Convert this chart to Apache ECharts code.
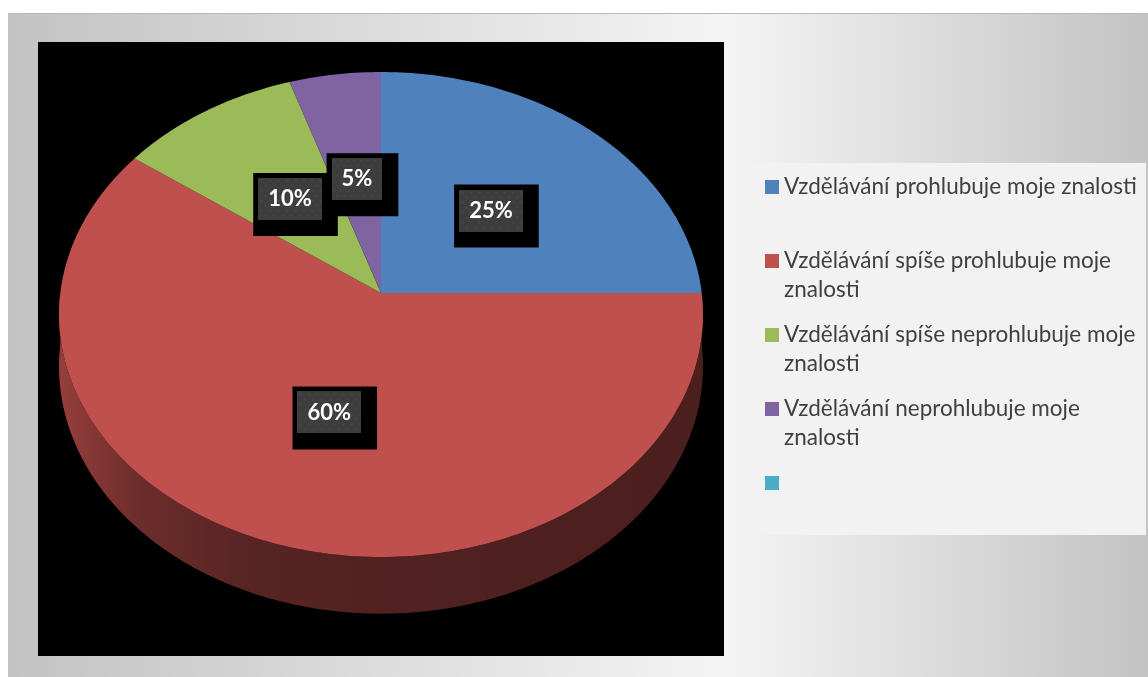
<!DOCTYPE html>
<html>
<head>
<meta charset="utf-8">
<title>Vzdělávání a znalosti</title>
<script src="https://cdn.jsdelivr.net/npm/echarts@6/dist/echarts.min.js"></script>
<style>
  html, body { margin: 0; padding: 0; background: #fff; }
  #main { width: 1148px; height: 677px; }
</style>
</head>
<body>
<div id="main"></div>
<script>
var names = [
  'Vzdělávání prohlubuje moje znalosti',
  'Vzdělávání spíše prohlubuje moje znalosti',
  'Vzdělávání spíše neprohlubuje moje znalosti',
  'Vzdělávání neprohlubuje moje znalosti',
  ' '
];
var values = [25, 60, 10, 5, 0];
var colors = ['#4f81bd', '#c0504d', '#9bbb59', '#8064a2', '#4bacc6'];

var starts = [], total = 0;
values.forEach(function (v) { starts.push(total); total += v; });

// tilted pie (perspective): centre, radius, vertical squash, perspective, thickness
var CX = 381, CY = 293, R = 320.7, RK = 240.6, P = 0.0887, DEPTH = 51.6;

function rim(deg, f, drop) {
  var a = deg * Math.PI / 180;
  var u = f * Math.sin(a), v = -f * Math.cos(a);
  var s = 1 / (1 - P * v);
  return [CX + R * u * s, CY + (RK * v + drop) * s];
}
function arc(from, to, f, drop) {
  var pts = [], n = Math.max(2, Math.ceil(Math.abs(to - from)));
  for (var k = 0; k <= n; k++) pts.push(rim(from + (to - from) * k / n, f, drop));
  return pts;
}
function shade(color, k) {
  var c = echarts.color.parse(color);
  return 'rgb(' + Math.round(c[0] * k) + ',' + Math.round(c[1] * k) + ',' + Math.round(c[2] * k) + ')';
}

// dotted dark fill behind the percentage labels (kept narrow: zrender uses the
// image width as the minimum token width)
var dots = document.createElement('canvas');
dots.width = 30; dots.height = 42;
(function () {
  var c = dots.getContext('2d');
  c.fillStyle = '#3d3d3d';
  c.fillRect(0, 0, 30, 42);
  c.fillStyle = '#4a4a4a';
  for (var y = 2, row = 0; y < 42; y += 5, row++) {
    for (var x = (row % 2) * 2 + 1; x < 30; x += 4) c.fillRect(x, y, 1, 1.5);
  }
})();

function renderSlice(params, api) {
  var start = api.value(0), val = api.value(1);
  if (!val) return null;
  var a0 = start / total * 360, a1 = (start + val) / total * 360;
  var color = api.visual('color');
  var children = [];

  var lo = Math.max(a0, 90), hi = Math.min(a1, 270);
  if (hi > lo) {
    var side = arc(lo, hi, 1, 0).concat(arc(hi, lo, 1, DEPTH));
    children.push({
      type: 'polygon', z2: 1,
      shape: { points: side },
      style: {
        fill: {
          type: 'linear', global: true, x: CX - R, y: 0, x2: CX + R, y2: 0,
          colorStops: [
            { offset: 0, color: shade(color, 0.78) },
            { offset: 0.12, color: shade(color, 0.56) },
            { offset: 0.3, color: shade(color, 0.45) },
            { offset: 0.6, color: shade(color, 0.41) },
            { offset: 1, color: shade(color, 0.39) }
          ]
        }
      }
    });
  }

  children.push({
    type: 'polygon', z2: 2,
    shape: { points: [rim(0, 0, 0)].concat(arc(a0, a1, 1, 0)) },
    style: { fill: color }
  });

  var lp = rim((a0 + a1) / 2, 0.5, 0);
  children.push({
    type: 'text', z2: 10,
    x: lp[0] + 5.5, y: lp[1] + 5.5,
    style: {
      text: '{v|' + Math.round(val / total * 100) + '%}',
      align: 'center', verticalAlign: 'middle',
      backgroundColor: '#000',
      padding: [5, 16, 16, 5],
      rich: {
        v: {
          fill: '#fff', fontFamily: 'Lato', fontWeight: 'bold', fontSize: 22,
          height: 24, padding: [9, 10, 9, 10],
          backgroundColor: { image: dots }
        }
      }
    }
  });
  return { type: 'group', children: children };
}

var myChart = echarts.init(document.getElementById('main'));
var option = {
  animation: false,
  graphic: [
    {
      type: 'rect', silent: true,
      shape: { x: 8, y: 13, width: 1140, height: 664 },
      style: {
        fill: {
          type: 'linear', x: 0, y: 0, x2: 1, y2: 0,
          colorStops: [
            { offset: 0, color: '#c3c3c3' },
            { offset: 0.63, color: '#f4f4f4' },
            { offset: 1, color: '#c3c3c3' }
          ]
        }
      }
    },
    { type: 'line', silent: true, shape: { x1: 8, y1: 13.5, x2: 1148, y2: 13.5 }, style: { stroke: '#b8b8b8', lineWidth: 1 } },
    { type: 'rect', silent: true, shape: { x: 38, y: 42, width: 686, height: 614 }, style: { fill: '#000' } },
    { type: 'rect', silent: true, shape: { x: 753, y: 163, width: 393, height: 372 }, style: { fill: '#f2f2f2' } }
  ],
  legend: {
    orient: 'vertical',
    left: 765,
    top: 143.5,
    padding: 0,
    itemWidth: 14,
    itemHeight: 14,
    itemGap: -13,
    icon: 'rect',
    selectedMode: false,
    data: names,
    // three text rows per item; the first row is empty so the icon sits on the first label line
    formatter: function (name) {
      var i = names.indexOf(name);
      if (i === 0 || i === 4) return '\n' + name + '\n';
      return '\n' + name.replace(' znalosti', '\nznalosti');
    },
    textStyle: {
      color: '#404040',
      fontFamily: 'Lato',
      fontSize: 22.5,
      lineHeight: 29
    }
  },
  series: names.map(function (n, i) {
    return {
      type: 'custom',
      name: n,
      coordinateSystem: 'none',
      silent: true,
      itemStyle: { color: colors[i] },
      data: [[starts[i], values[i]]],
      renderItem: renderSlice
    };
  })
};
myChart.setOption(option);
</script>
</body>
</html>
